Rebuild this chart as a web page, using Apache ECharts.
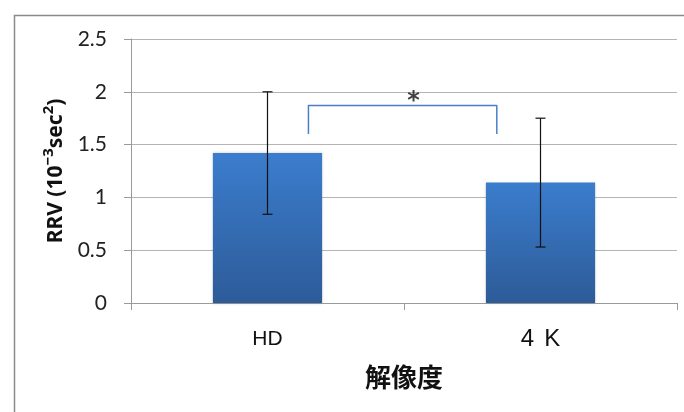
<!DOCTYPE html>
<html>
<head>
<meta charset="utf-8">
<script src="https://cdn.jsdelivr.net/npm/echarts@6/dist/echarts.min.js"></script>
<style>
  html, body { margin: 0; padding: 0; background: #fff; }
  #chart { width: 684px; height: 412px; }
</style>
</head>
<body>
<div id="chart"></div>
<script>
// Mean RRV per display resolution, with standard-deviation error bars
const categories = ['HD', '4 K'];
const means = [1.42, 1.14];
const errors = [0.58, 0.61];

// Axis ticks
const yMin = 0;
const yMax = 2.5;
const yStep = 0.5;

// Significance bracket between the two groups (x in category units, y in data units)
const bracketX = [0.15, 0.84];
const bracketY = [1.60, 1.87];
const sigMark = '*';

const chart = echarts.init(document.getElementById('chart'), null, { renderer: 'canvas' });

const tickFont = 'Lato, "Liberation Sans", sans-serif';
const labelFont = '"Liberation Sans", Arial, sans-serif';
const gridColor = '#b4b4b4';
const axisColor = '#9a9a9a';

const errorData = categories.map((c, i) => [i, means[i] - errors[i], means[i] + errors[i]]);
const bracketData = [
  [bracketX[0], bracketY[0]],
  [bracketX[0], bracketY[1]],
  [bracketX[1], bracketY[1]],
  [bracketX[1], bracketY[0]]
];
const starData = [[(bracketX[0] + bracketX[1]) / 2 + 0.04, bracketY[1]]];

// Category labels: "HD" in a smaller face, words of "4 K" set a little apart
function categoryLabel(v) {
  if (v === 'HD') return '{hd|' + v + '}';
  return v.split(' ').map(w => '{k|' + w + '}').join('{gap|}');
}

chart.setOption({
  animation: false,
  backgroundColor: '#ffffff',
  graphic: [{
    type: 'rect',
    left: 12,
    top: 13,
    shape: { width: 700, height: 420 },
    style: { fill: 'none', stroke: '#8a8a8a', lineWidth: 1.5 },
    silent: true,
    z: -1
  }],
  grid: { left: 131, right: 7, top: 39, bottom: 109 },
  xAxis: [{
    type: 'category',
    data: categories,
    name: '解像度',
    nameLocation: 'middle',
    nameGap: 61,
    nameTextStyle: {
      fontFamily: '"Noto Sans CJK JP", sans-serif',
      fontWeight: 'bold',
      fontSize: 26,
      color: '#111'
    },
    axisLine: { lineStyle: { color: axisColor, width: 1 } },
    axisTick: { show: true, length: 7, alignWithLabel: false, lineStyle: { color: axisColor } },
    axisLabel: {
      margin: 23,
      formatter: categoryLabel,
      rich: {
        hd: { fontFamily: labelFont, fontSize: 21, color: '#111', lineHeight: 26 },
        k: { fontFamily: labelFont, fontSize: 24, color: '#111', lineHeight: 26 },
        gap: { width: 10, lineHeight: 26 }
      }
    },
    splitLine: { show: false }
  }, {
    type: 'value',
    min: -0.5,
    max: 1.5,
    show: false,
    splitLine: { show: false }
  }],
  yAxis: {
    type: 'value',
    min: yMin,
    max: yMax,
    interval: yStep,
    name: '{m|RRV (10}{s|−3}{m|sec}{s|2}{m|)}',
    nameLocation: 'middle',
    nameGap: 64,
    nameTextStyle: {
      rich: {
        m: { fontFamily: '"Noto Sans", sans-serif', fontWeight: 'bold', fontSize: 21, color: '#111', lineHeight: 26, verticalAlign: 'bottom' },
        s: { fontFamily: '"Noto Sans", sans-serif', fontWeight: 'bold', fontSize: 15, color: '#111', lineHeight: 26, verticalAlign: 'top' }
      }
    },
    axisLine: { show: true, onZero: false, lineStyle: { color: axisColor, width: 1 } },
    axisTick: { show: true, length: 7, lineStyle: { color: axisColor } },
    axisLabel: {
      margin: 24,
      fontFamily: tickFont,
      fontSize: 21,
      color: '#222',
      formatter: v => String(v)
    },
    splitLine: { show: true, lineStyle: { color: gridColor, width: 1 } }
  },
  series: [{
    type: 'bar',
    data: means,
    barWidth: '40%',
    itemStyle: {
      color: new echarts.graphic.LinearGradient(0, 0, 0, 1, [
        { offset: 0, color: '#3b7dcd' },
        { offset: 1, color: '#2d5b98' }
      ]),
      shadowBlur: 3,
      shadowColor: 'rgba(0,0,0,0.25)'
    },
    z: 2
  }, {
    type: 'custom',
    data: errorData,
    z: 5,
    renderItem: (params, api) => {
      const x = api.value(0);
      const lo = api.coord([x, api.value(1)]);
      const hi = api.coord([x, api.value(2)]);
      const cap = 5;
      const style = { stroke: '#111', lineWidth: 1.2 };
      return {
        type: 'group',
        children: [
          { type: 'line', shape: { x1: lo[0], y1: lo[1], x2: hi[0], y2: hi[1] }, style },
          { type: 'line', shape: { x1: lo[0] - cap, y1: lo[1], x2: lo[0] + cap, y2: lo[1] }, style },
          { type: 'line', shape: { x1: hi[0] - cap, y1: hi[1], x2: hi[0] + cap, y2: hi[1] }, style }
        ]
      };
    }
  }, {
    type: 'line',
    xAxisIndex: 1,
    data: bracketData,
    symbol: 'none',
    lineStyle: { color: '#4a7ec6', width: 1.5 },
    z: 4
  }, {
    type: 'scatter',
    xAxisIndex: 1,
    data: starData,
    symbolSize: 0,
    label: {
      show: true,
      position: 'top',
      distance: -8,
      formatter: sigMark,
      fontFamily: '"DejaVu Sans", sans-serif',
      fontWeight: 'bold',
      fontSize: 24,
      color: '#111'
    },
    z: 6
  }]
});
</script>
</body>
</html>
